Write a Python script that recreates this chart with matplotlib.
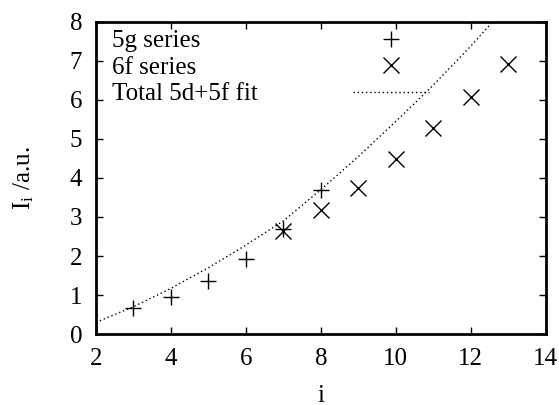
import matplotlib
matplotlib.use("Agg")
import matplotlib.pyplot as plt

plt.rcParams['font.family'] = ['Liberation Serif', 'DejaVu Serif']
plt.rcParams['mathtext.fontset'] = 'custom'
plt.rcParams['mathtext.rm'] = 'Liberation Serif'
plt.rcParams['mathtext.it'] = 'Liberation Serif:italic'

# data
g5_i = [3, 4, 5, 6, 7, 8]
g5_I = [0.66, 0.96, 1.36, 1.92, 2.68, 3.68]
f6_i = [7, 8, 9, 10, 11, 12, 13]
f6_I = [2.65, 3.18, 3.75, 4.49, 5.27, 6.08, 6.93]
fit_i = [2, 3, 4, 5, 6, 7, 8, 9, 10, 11, 12, 13]
fit_I = [0.30, 0.70, 1.17, 1.70, 2.28, 2.90, 3.70, 4.55, 5.45, 6.38, 7.38, 8.45]
labels = ["5g series", "6f series", "Total 5d+5f fit"]
xticks = [2, 4, 6, 8, 10, 12, 14]
yticks = [0, 1, 2, 3, 4, 5, 6, 7, 8]

FS = 18

fig = plt.figure(figsize=(5.59, 4.05), dpi=100)
ax = fig.add_axes([0.1717, 0.1753, 0.8045, 0.7704])

ms = 11.5
h1, = ax.plot(g5_i, g5_I, linestyle='none', marker='+', ms=ms, mew=1.0, color='black')
h2, = ax.plot(f6_i, f6_I, linestyle='none', marker='x', ms=ms, mew=1.0, color='black')
h3, = ax.plot(fit_i, fit_I, linestyle=(0, (1, 2)), lw=1.0, color='black')

ax.set_xlim(2, 14)
ax.set_ylim(0, 8)
ax.set_xticks(xticks)
ax.set_yticks(yticks)
ax.tick_params(direction='in', top=True, right=True, length=5, width=1,
               labelsize=FS)
ax.tick_params(axis='x', pad=10)
ax.tick_params(axis='y', pad=10)
for s in ax.spines.values():
    s.set_linewidth(2)

ax.set_xlabel("i", fontsize=FS, labelpad=11)
ax.set_ylabel(r"I$_\mathrm{i}$ /a.u.", fontsize=FS, labelpad=24)

leg = ax.legend([h1, h2, h3], labels, loc='upper left',
                bbox_to_anchor=(0.036, 0.975), frameon=False, fontsize=FS,
                markerfirst=False, handlelength=3.04, handletextpad=3.8,
                borderpad=0, borderaxespad=0, labelspacing=0.16)

fig.canvas.draw()
texts = leg.get_texts()
ws = [t.get_window_extent().width for t in texts]
m = max(ws)
for t, w in zip(texts, ws):
    t.set_x(-(m - w))

fig.savefig("out.png", dpi=100)
